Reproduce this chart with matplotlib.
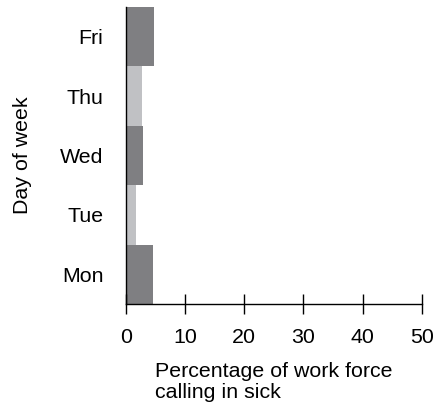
import matplotlib.pyplot as plt

plt.rcParams['font.family'] = ['Liberation Sans', 'DejaVu Sans']

days = ['Mon', 'Tue', 'Wed', 'Thu', 'Fri']
pct_sick = [4.6, 1.8, 3.0, 2.8, 4.8]
bar_colors = ['#7f7f82', '#c0c1c4', '#7f7f82', '#c0c1c4', '#7f7f82']
xticks = [0, 10, 20, 30, 40, 50]

fs = 15.4

fig = plt.figure(figsize=(4.33, 4.09), dpi=100)
ax = fig.add_axes([125.7 / 433, 105 / 409, (421.7 - 125.7) / 433, (304 - 7) / 409])

ax.barh(range(len(days)), pct_sick, height=1.0, color=bar_colors)

ax.set_xlim(0, 50)
ax.set_ylim(-0.5, len(days) - 0.5)
ax.set_xticks(xticks)
ax.set_yticks(range(len(days)))
ax.set_yticklabels(days)

for s in ['top', 'right']:
    ax.spines[s].set_visible(False)
ax.spines['left'].set_linewidth(1.0)
ax.spines['bottom'].set_linewidth(1.0)

ax.tick_params(axis='x', direction='inout', length=14.4, width=1.0,
               labelsize=fs, pad=10)
ax.tick_params(axis='y', length=0, labelsize=fs, pad=16)

ax.set_xlabel('Percentage of work force\ncalling in sick', fontsize=fs,
              multialignment='left', linespacing=1.15, labelpad=11)
ax.set_ylabel('Day of week', fontsize=fs, labelpad=20)

fig.savefig('out.png', dpi=100)
